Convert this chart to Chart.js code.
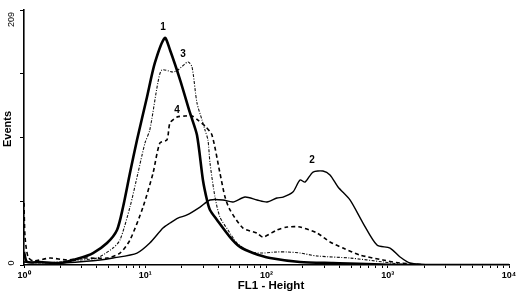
<!DOCTYPE html>
<html><head><meta charset="utf-8">
<script src="https://cdn.jsdelivr.net/npm/chart.js@4"></script>
<style>html,body{margin:0;padding:0;background:#fff}</style>
</head><body>
<canvas id="c" width="520" height="294" style="width:520px;height:294px;display:block"></canvas>
<script>
// ---- data (FL1 value, Events) ----
const xTickValues = [1, 10, 100, 1000, 10000];
const xTickLabels = ['10\u2070', '10\u00B9', '10\u00B2', '10\u00B3', '10\u2074'];
const yTickValues = [0, 209];
const yTickLabels = ['0', '209'];
const yMax = 209;
const xTitle = 'FL1 - Height';
const yTitle = 'Events';

const curve1X = [1, 1.06, 1.355, 1.98, 2.90, 3.71, 4.84, 5.85, 6.56, 7.48, 8.55, 10.34, 12.0, 14.5, 16.0, 19.4, 23.4, 26.7, 29.9, 32.3, 34.2, 39.1, 50.0, 60.4, 77.4, 107, 189, 353, 1262, 10000];
const curve1Y = [10.7, 2.5, 2.5, 1.6, 5.7, 9.8, 18.0, 28.7, 47.5, 75.4, 102.5, 137.7, 165.6, 186.1, 176.2, 151.6, 124.6, 106.5, 69.7, 53.3, 45.1, 36.9, 22.9, 14.8, 9.8, 5.7, 2.5, 1.6, 0, 0];

const curve2X = [1, 1.98, 4.24, 5.42, 8.55, 10.9, 14.0, 16.0, 18.6, 22.1, 28.3, 34.2, 43.8, 52.9, 66.5, 83.5, 101, 122, 137, 165, 189, 208, 242, 292, 334, 389, 488, 625, 815, 1044, 1262, 1524, 2361, 10000];
const curve2Y = [2.5, 1.6, 4.1, 5.7, 9.8, 18.0, 30.3, 34.4, 38.5, 41.0, 47.5, 53.3, 53.3, 51.6, 55.7, 53.3, 51.6, 54.9, 55.7, 59.8, 69.7, 68.0, 76.2, 77.0, 73.8, 63.9, 53.3, 34.4, 16.4, 13.9, 6.6, 1.6, 0, 0];

const curve3X = [1, 1.355, 1.98, 2.90, 4.0, 5.42, 6.19, 7.48, 8.71, 9.95, 10.9, 12.7, 13.7, 16.9, 18.6, 22.5, 24.3, 26.7, 29.4, 31.1, 32.9, 34.2, 37.6, 41.3, 48.1, 57.1, 73.1, 93.6, 122, 148, 189, 261, 488, 914, 1262, 2230, 10000];
const curve3Y = [2.5, 1.6, 2.5, 4.1, 5.7, 13.9, 20.5, 47.5, 75.4, 100.0, 110.6, 149.2, 159.8, 158.2, 159.8, 166.4, 162.3, 132.8, 118.8, 110.6, 102.5, 83.6, 55.7, 39.3, 28.7, 18.0, 10.7, 9.8, 10.7, 10.7, 9.8, 7.4, 5.7, 2.5, 0.8, 0, 0];

const curve4X = [1, 1.02, 1.08, 1.19, 1.64, 2.26, 3.07, 4.84, 6.19, 7.48, 9.58, 11.6, 13.2, 15.1, 16.0, 18.3, 21.3, 24.3, 27.2, 31.7, 35.5, 41.3, 45.5, 50.0, 64.0, 83.5, 93.6, 122, 148, 189, 261, 334, 428, 590, 914, 1262, 2230, 10000];
const curve4Y = [50.8, 22.9, 6.6, 3.3, 5.7, 4.1, 5.7, 5.7, 9.8, 20.5, 47.5, 75.4, 100.0, 102.5, 116.4, 121.3, 122.1, 122.1, 118.8, 113.1, 106.5, 75.4, 55.7, 45.1, 30.3, 26.2, 22.9, 28.7, 31.1, 31.1, 26.2, 18.9, 13.9, 8.2, 4.1, 1.6, 0, 0];

const curveNames = ['1', '2', '3', '4'];
// label anchor (FL1 value, Events) for each curve name
const labelX = [14.0, 237, 20.5, 18.3];
const labelY = [195, 86, 173, 127];

function pts(xs, ys) { return xs.map((x, i) => ({x: x, y: ys[i]})); }

const minorTicks = [];
for (let d = 1; d < 10000; d *= 10) for (let k = 1; k < 10; k++) minorTicks.push(d * k);
minorTicks.push(10000);

const FONT = '"Liberation Sans", Arial, sans-serif';

const annot = {
  id: 'annot',
  afterDraw(chart) {
    const ctx = chart.ctx, xs = chart.scales.x, ys = chart.scales.y;
    ctx.save();
    ctx.fillStyle = '#000';
    ctx.font = 'bold 10px ' + FONT;
    ctx.textAlign = 'center';
    ctx.textBaseline = 'middle';
    curveNames.forEach((n, i) => {
      ctx.fillText(n, xs.getPixelForValue(labelX[i]), ys.getPixelForValue(labelY[i]));
    });
    ctx.font = '9px ' + FONT;
    yTickValues.forEach((v, i) => {
      const py = ys.getPixelForValue(v) + (v === 0 ? -2 : 2);
      ctx.save();
      ctx.translate(12, py);
      ctx.rotate(-Math.PI / 2);
      ctx.textAlign = v === 0 ? 'center' : 'right';
      ctx.fillText(yTickLabels[i], 0, 0);
      ctx.restore();
    });
    // y axis title
    ctx.save();
    ctx.font = 'bold 11px ' + FONT;
    ctx.translate(8, 129);
    ctx.rotate(-Math.PI / 2);
    ctx.textAlign = 'center';
    ctx.fillText(yTitle, 0, 0);
    ctx.restore();
    // x axis title
    ctx.font = 'bold 11.5px ' + FONT;
    ctx.textAlign = 'center';
    ctx.fillText(xTitle, 271, 286);
    ctx.restore();
  }
};

new Chart(document.getElementById('c'), {
  type: 'line',
  data: {
    datasets: [
      {label: '1', data: pts(curve1X, curve1Y), borderColor: '#000', borderWidth: 2.6},
      {label: '2', data: pts(curve2X, curve2Y), borderColor: '#000', borderWidth: 1.4},
      {label: '3', data: pts(curve3X, curve3Y), borderColor: '#111', borderWidth: 1.1, borderDash: [3, 1.5, 1, 1.5]},
      {label: '4', data: pts(curve4X, curve4Y), borderColor: '#000', borderWidth: 1.6, borderDash: [4, 3]}
    ]
  },
  options: {
    responsive: false,
    animation: false,
    devicePixelRatio: 1,
    elements: {point: {radius: 0}, line: {tension: 0.25, fill: false}},
    layout: {padding: {left: 0, right: 11, top: 10, bottom: 0}},
    plugins: {legend: {display: false}, tooltip: {enabled: false}},
    scales: {
      x: {
        type: 'logarithmic', min: 1, max: 10000,
        afterBuildTicks: s => { s.ticks = minorTicks.map(v => ({value: v})); },
        afterFit: s => { s.height = 29; },
        border: {display: true, color: '#000', width: 1.6},
        grid: {display: true, drawOnChartArea: false, drawTicks: true, tickLength: 3, color: '#000', tickWidth: 1},
        ticks: {
          autoSkip: false, maxRotation: 0, minRotation: 0, padding: 2, color: '#000',
          font: {family: FONT, size: 9, weight: 'bold'},
          callback: v => { const i = xTickValues.indexOf(v); return i >= 0 ? xTickLabels[i] : ''; }
        },
        title: {display: false}
      },
      y: {
        min: 0, max: yMax,
        afterBuildTicks: s => { s.ticks = [0, 1, 2, 3, 4].map(k => ({value: yMax * k / 4})); },
        afterFit: s => { s.width = 24; },
        border: {display: true, color: '#000', width: 1.6},
        grid: {display: true, drawOnChartArea: false, drawTicks: true, tickLength: 4, color: '#000'},
        ticks: {display: false},
        title: {display: false}
      }
    }
  },
  plugins: [annot]
});
</script>
</body></html>
